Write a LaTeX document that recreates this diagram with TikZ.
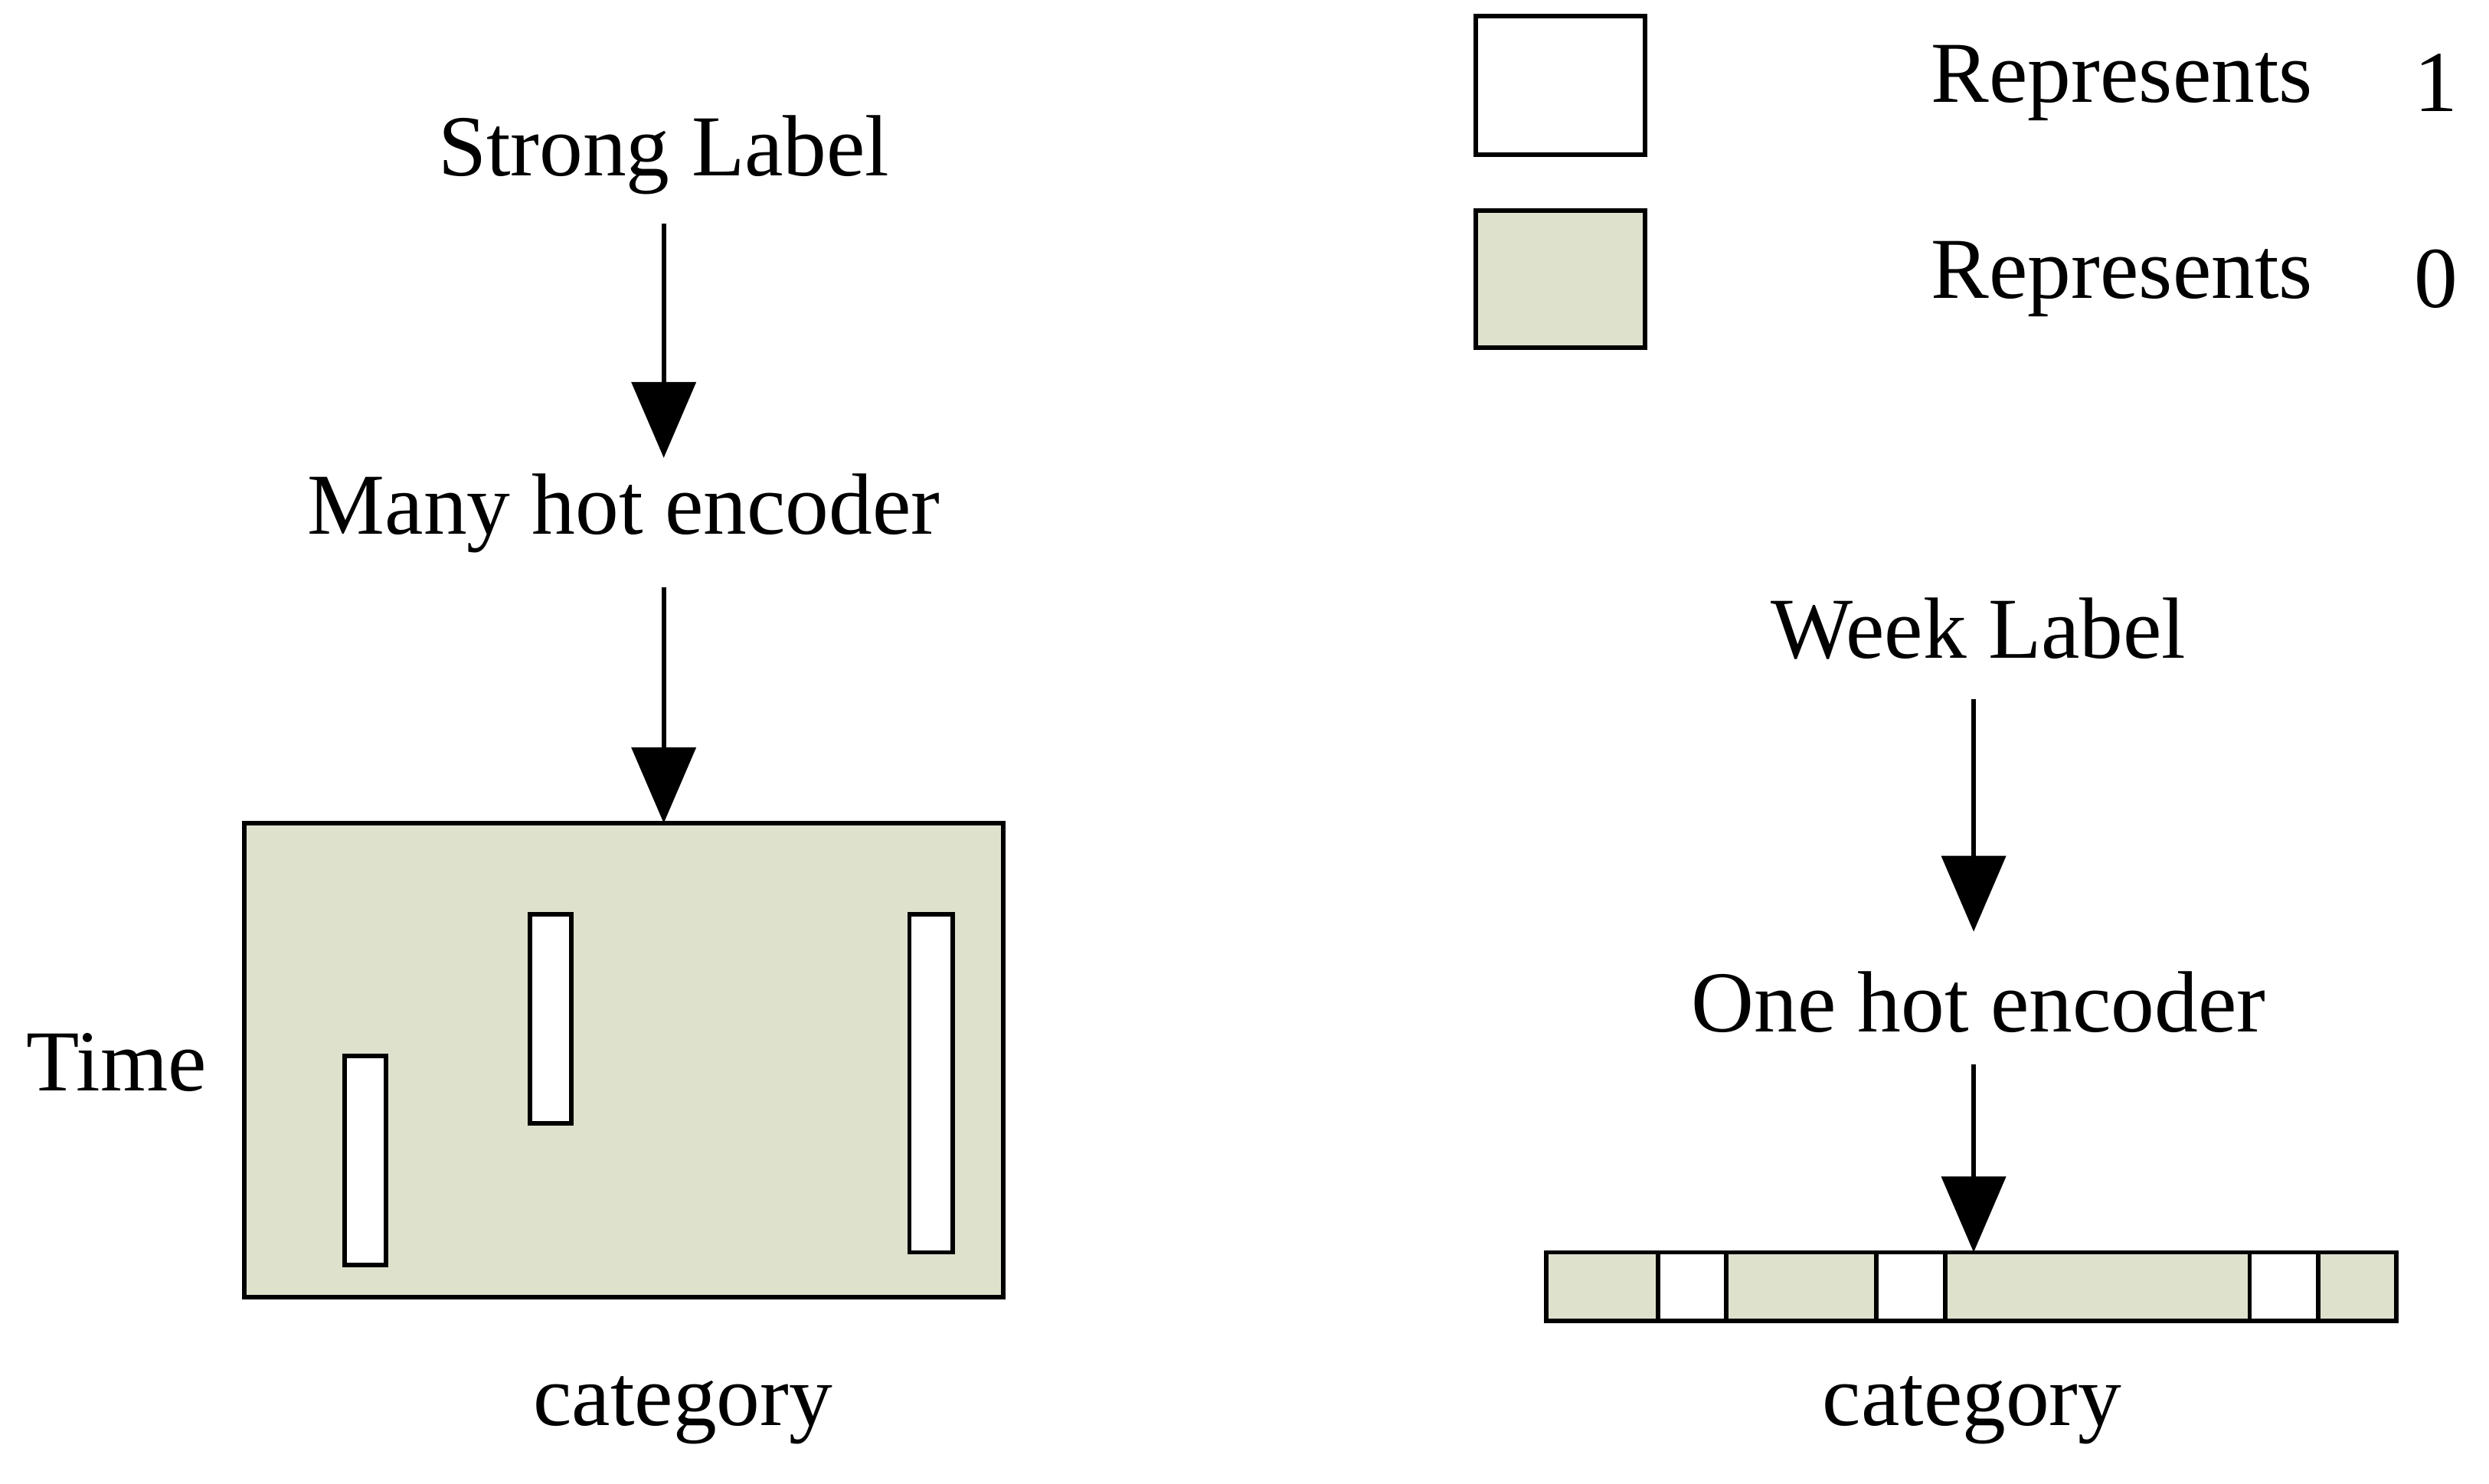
\documentclass[tikz,border=0pt]{standalone}
\usepackage{fontspec}
\setmainfont{Liberation Serif}
\usetikzlibrary{positioning, arrows.meta}

\begin{document}
\begin{tikzpicture}
            [x=0.02cm, y=-0.02cm,
             lbl/.style={font=\fontsize{31}{36}\selectfont, inner sep=0pt},
             cell/.style={draw=black, line width=1.6pt},
             zero/.style={cell, fill=zerofill},
             one/.style={cell, fill=white},
             flow/.style={line width=1.7pt, -{Triangle[width=0.8cm, length=0.95cm]}}]
            \definecolor{zerofill}{HTML}{DEE1CC}
            \useasboundingbox (0,0) rectangle (1560,930);

            % left part
            \node[lbl] (strong) at (416,97) {Strong Label};
            \node[lbl] (many) at (391,322) {Many hot encoder};
            \draw[zero] (153,516) rectangle (629,813);
            \coordinate (gridtop) at (416,516);
            \draw[one] (216,662) rectangle (242,793);
            \draw[one] (332,573) rectangle (358,704);
            \draw[one] (570,573) rectangle (597,785);
            \node[lbl] (time) at (73,666) {Time};
            \node[lbl] (catA) at (428,884) {category};

            \draw[flow] (416,140) coordinate (s1) -- (416,287) coordinate (e1);
            \draw[flow] (416,368) coordinate (s2) -- (gridtop);

            % legend
            \draw[one] (925,10) rectangle (1031,97);
            \draw[zero] (925,132) rectangle (1031,218);
            \node[lbl] (rep1) at (1330,52) {Represents};
            \node[lbl] (val1) at (1527,52) {1};
            \node[lbl] (rep0) at (1330,175) {Represents};
            \node[lbl] (val0) at (1527,175) {0};

            % right part
            \node[lbl] (week) at (1240,394) {Week Label};
            \node[lbl] (one) at (1240,628) {One hot encoder};
            \draw[zero] (969,785) rectangle (1502,828);
            \coordinate (striptop) at (1237,785);
            \foreach \x in {1039,1176,1410}
                \draw[one] (\x,785) rectangle (\x+43,828);
            \node[lbl] (catB) at (1236,884) {category};

            \draw[flow] (1237,438) coordinate (s3) -- (1237,584) coordinate (e3);
            \draw[flow] (1237,667) coordinate (s4) -- (striptop);
        \end{tikzpicture}
\end{document}
